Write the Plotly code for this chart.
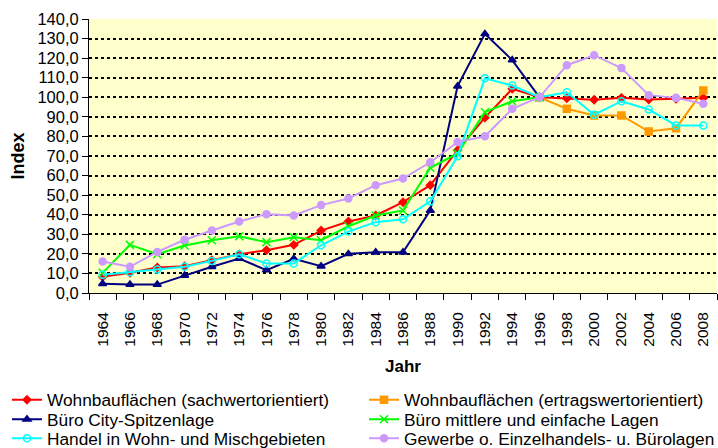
import plotly.graph_objects as go

years = [str(y) for y in range(1964, 2009, 2)]

wohn_sach = [8.3, 10.3, 13.0, 13.7, 16.8, 19.8, 21.9, 24.6, 31.9, 36.5, 39.6, 46.4,
             55.1, 73.0, 89.6, 104.3, 100.0, 99.5, 98.7, 99.7, 98.9, 99.2, 99.7]
wohn_ertrag = [None] * 16 + [100.0, 94.1, 90.7, 90.7, 82.5, 84.2, 103.5]
buero_city = [4.7, 4.3, 4.3, 8.9, 13.4, 17.6, 11.7, 17.5, 13.7, 20.0, 20.8, 20.8,
              42.2, 105.7, 132.4, 119.0, 100.0] + [None] * 6
buero_mittel = [10.3, 24.6, 19.8, 24.3, 27.0, 29.0, 26.0, 28.5, 27.0, 34.1, 39.6, 42.2,
                64.0, 71.3, 92.4, 98.0, 100.0] + [None] * 6
handel = [9.3, 10.6, 12.0, 13.4, 16.4, 19.8, 15.1, 15.1, 24.4, 31.4, 36.2, 37.7,
          46.9, 69.9, 109.7, 106.0, 100.0, 102.6, 91.1, 98.0, 93.8, 85.6, 85.6]
gewerbe = [16.1, 13.4, 21.0, 27.2, 31.9, 36.5, 40.3, 39.6, 44.9, 48.3, 55.1, 58.5,
           66.8, 77.1, 80.1, 94.1, 100.0, 116.4, 121.5, 114.9, 101.1, 99.7, 96.7]

# (name, values, colour, marker symbol, marker size, legend row)
series = [
    ("Wohnbauflächen (sachwertorientiert)", wohn_sach, "#FF0000", "diamond", 6, "legend"),
    ("Wohnbauflächen (ertragswertorientiert)", wohn_ertrag, "#FF9900", "square", 7, "legend"),
    ("Büro City-Spitzenlage", buero_city, "#000080", "triangle-up", 7, "legend2"),
    ("Büro mittlere und einfache Lagen", buero_mittel, "#00FF00", "x-thin-open", 8, "legend2"),
    ("Handel in Wohn- und Mischgebieten", handel, "#00FFFF", "circle-open", 7, "legend3"),
    ("Gewerbe o. Einzelhandels- u. Bürolagen", gewerbe, "#CC99FF", "circle", 7, "legend3"),
]

fig = go.Figure()
for name, vals, col, sym, sz, leg in series:
    fig.add_trace(go.Scatter(
        x=years, y=vals, name=name, mode="lines+markers",
        line=dict(color=col, width=2),
        marker=dict(symbol=sym, size=sz, color=col,
                    line=dict(color=col, width=1.5)),
        connectgaps=False,
        legend=leg,
    ))

font_family = "Liberation Sans, Arial, sans-serif"
PLOT_TOP, PLOT_BOTTOM = 19, 293
PLOT_LEFT, PLOT_RIGHT = 89, 717
PH = PLOT_BOTTOM - PLOT_TOP
PW = PLOT_RIGHT - PLOT_LEFT


def leg(top_px):
    return dict(
        orientation="h",
        x=(7 - PLOT_LEFT) / PW, xanchor="left",
        y=(PLOT_BOTTOM - top_px) / PH, yanchor="top",
        entrywidth=312, entrywidthmode="pixels",
        font=dict(size=17.3),
        itemwidth=30,
        bgcolor="rgba(0,0,0,0)",
    )


fig.update_layout(
    width=718, height=448,
    margin=dict(l=PLOT_LEFT, r=718 - PLOT_RIGHT, t=PLOT_TOP, b=448 - PLOT_BOTTOM,
                autoexpand=False),
    paper_bgcolor="white",
    plot_bgcolor="#FFFFCC",
    separators=",.",
    font=dict(family=font_family, size=16, color="black"),
    showlegend=True,
    legend=leg(382),
    legend2=leg(401.5),
    legend3=leg(420.5),
    xaxis=dict(
        type="category",
        range=[-0.5, 22.5],
        tickangle=-90,
        ticks="outside", ticklen=6, tickcolor="black",
        tickson="boundaries",
        ticklabelstandoff=12,
        showline=True, linecolor="black", linewidth=1,
        showgrid=False,
        tickfont=dict(size=15.5),
        title=dict(text="<b>Jahr</b>", font=dict(size=17), standoff=14),
        automargin=False,
    ),
    yaxis=dict(
        range=[0, 140],
        dtick=10,
        tickformat=".1f",
        ticks="outside", ticklen=6, tickcolor="black",
        showline=True, linecolor="black", linewidth=1,
        showgrid=True, gridcolor="black", gridwidth=1.5, griddash="3px,3px",
        zeroline=False,
        tickfont=dict(size=16.5),
        title=dict(text="<b>Index</b>", font=dict(size=18), standoff=8),
        automargin=False,
    ),
)

fig.write_html("out.html",
               config={"displayModeBar": False},
               post_script="document.body.style.margin='0px';document.body.style.overflow='hidden';")
